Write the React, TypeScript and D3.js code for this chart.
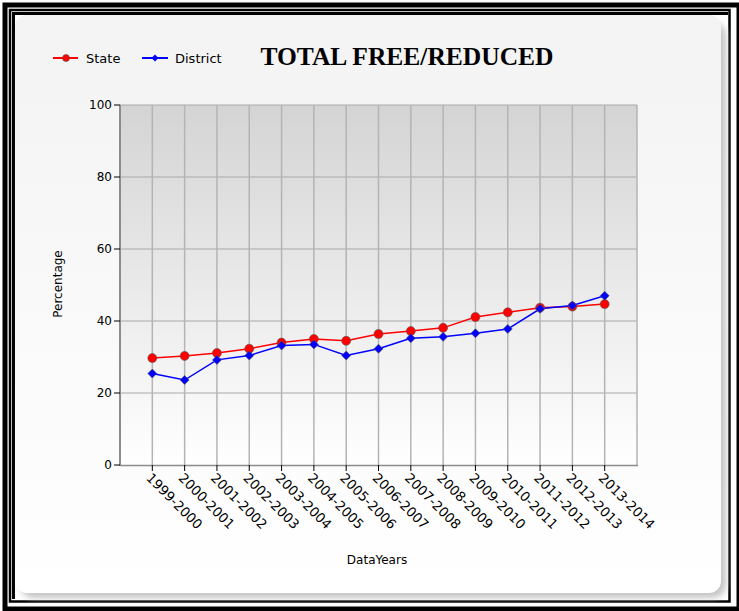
import React from 'react';
import * as d3 from 'd3';

const categories = ['1999-2000','2000-2001','2001-2002','2002-2003','2003-2004','2004-2005','2005-2006','2006-2007','2007-2008','2008-2009','2009-2010','2010-2011','2011-2012','2012-2013','2013-2014'];
const stateValues = [29.7, 30.3, 31.1, 32.3, 34.0, 35.0, 34.5, 36.4, 37.2, 38.1, 41.1, 42.4, 43.7, 44.0, 44.7];
const districtValues = [25.4, 23.6, 29.2, 30.4, 33.2, 33.5, 30.4, 32.3, 35.2, 35.6, 36.6, 37.8, 43.4, 44.3, 47.0];
const yTicks = [0, 20, 40, 60, 80, 100];
const seriesNames = ['State', 'District'];
const titleText = 'TOTAL FREE/REDUCED';
const xTitle = 'DataYears';
const yTitle = 'Percentage';

const W = 739, H = 611;
const left = 120, right = 637, top = 105, bottom = 465;
const font = '"DejaVu Sans", sans-serif';

export default function App() {
  const x = d3.scalePoint<string>().domain(categories).range([left, right]).padding(1);
  const y = d3.scaleLinear().domain([0, 100]).range([bottom, top]);
  const line = d3.line<number>().x((_, i) => x(categories[i]) as number).y(d => y(d));
  const diamond = (cx: number, cy: number, r: number) => `M${cx},${cy - r}L${cx + r},${cy}L${cx},${cy + r}L${cx - r},${cy}Z`;

  return (
    <svg width={W} height={H} style={{ position: 'absolute', left: 0, top: 0 }}>
      <defs>
        <linearGradient id="panelG" x1="0" y1="0" x2="0" y2="1">
          <stop offset="0" stopColor="#f3f3f3" />
          <stop offset="1" stopColor="#ffffff" />
        </linearGradient>
        <linearGradient id="plotG" x1="0" y1="0" x2="0" y2="1">
          <stop offset="0" stopColor="#d4d4d4" />
          <stop offset="1" stopColor="#ffffff" />
        </linearGradient>
        <filter id="blur" x="-5%" y="-5%" width="110%" height="110%">
          <feGaussianBlur stdDeviation="3" />
        </filter>
      </defs>
      <rect x={0} y={0} width={W} height={H} fill="#ffffff" />
      {/* frames */}
      <rect x={5} y={5} width={734} height={604} fill="none" stroke="#000" strokeWidth={5} />
      <rect x={10} y={10} width={719.5} height={591.5} fill="none" stroke="#000" strokeWidth={2.5} />
      <path d={`M13.5,599 L13.5,13.5 L728,13.5`} fill="none" stroke="#000" strokeWidth={3} />
      {/* panel shadow + panel */}
      <rect x={20} y={22} width={706} height={576} rx={14} fill="#c4c4c4" filter="url(#blur)" />
      <rect x={15} y={15} width={706} height={578} rx={12} fill="url(#panelG)" />

      {/* plot area */}
      <rect x={left} y={top} width={right - left} height={bottom - top} fill="url(#plotG)" />
      {yTicks.filter(t => t > 0).map(t => (
        <line key={'hg' + t} x1={left} x2={right} y1={y(t)} y2={y(t)} stroke="#a8a8a8" strokeWidth={1} />
      ))}
      {categories.map(c => (
        <line key={'vg' + c} x1={x(c)} x2={x(c)} y1={top} y2={bottom} stroke="#b4b4b4" strokeWidth={1.5} />
      ))}
      <line x1={right} x2={right} y1={top} y2={bottom} stroke="#b4b4b4" strokeWidth={1.5} />
      <line x1={left} x2={left} y1={top} y2={bottom + 1} stroke="#8c8c8c" strokeWidth={2} />
      <line x1={left} x2={right + 1} y1={bottom + 0.5} y2={bottom + 0.5} stroke="#8c8c8c" strokeWidth={1.5} />

      {/* y ticks */}
      {yTicks.map(t => (
        <g key={'yt' + t}>
          <line x1={left - 6} x2={left} y1={y(t)} y2={y(t)} stroke="#000" strokeWidth={1} />
          <text x={left - 8} y={y(t)} dy="0.35em" textAnchor="end" fontFamily={font} fontSize={12} fill="#000">{t}</text>
        </g>
      ))}
      {/* x ticks */}
      {categories.map(c => (
        <g key={'xt' + c}>
          <line x1={x(c)} x2={x(c)} y1={bottom} y2={bottom + 6} stroke="#000" strokeWidth={1} />
          <text transform={`translate(${(x(c) as number) - 4},${bottom + 11}) rotate(45)`} fontFamily={font} fontSize={13.3} fill="#000" dominantBaseline="middle">{c}</text>
        </g>
      ))}

      {/* lines */}
      <path d={line(stateValues) || ''} fill="none" stroke="#ff0000" strokeWidth={1.5} />
      <path d={line(districtValues) || ''} fill="none" stroke="#0000ff" strokeWidth={1.5} />
      {stateValues.map((v, i) => (
        <circle key={'s' + i} cx={x(categories[i])} cy={y(v)} r={4.5} fill="#ff0000" stroke="#555" strokeOpacity={0.6} strokeWidth={1} />
      ))}
      {districtValues.map((v, i) => (
        <path key={'d' + i} d={diamond(x(categories[i]) as number, y(v), 4.5)} fill="#0000ff" stroke="#555" strokeOpacity={0.6} strokeWidth={1} />
      ))}

      {/* axis titles */}
      <text x={377} y={564} textAnchor="middle" fontFamily={font} fontSize={12} fill="#000">{xTitle}</text>
      <text transform={`translate(62,284) rotate(-90)`} textAnchor="middle" fontFamily={font} fontSize={12} fill="#000">{yTitle}</text>

      {/* legend */}
      <line x1={53} x2={78} y1={58} y2={58} stroke="#ff0000" strokeWidth={2} />
      <circle cx={66} cy={58} r={3.5} fill="#ff0000" stroke="#555" strokeOpacity={0.6} strokeWidth={1} />
      <text x={86} y={63} fontFamily={font} fontSize={13} fill="#000">{seriesNames[0]}</text>
      <line x1={142} x2={168} y1={58} y2={58} stroke="#0000ff" strokeWidth={2} />
      <path d={diamond(155, 58, 3.5)} fill="#0000ff" />
      <text x={175} y={63} fontFamily={font} fontSize={13} fill="#000">{seriesNames[1]}</text>

      {/* title */}
      <text x={407} y={65} textAnchor="middle" fontFamily='"Liberation Serif", "Times New Roman", serif' fontWeight="bold" fontSize={25.5} fill="#000">{titleText}</text>
    </svg>
  );
}
